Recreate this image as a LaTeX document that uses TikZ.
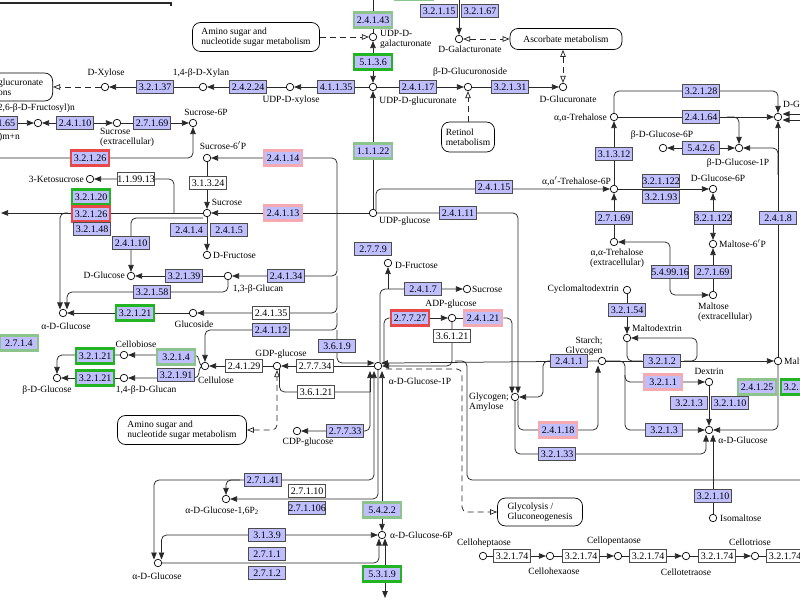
\documentclass[tikz,border=0pt]{standalone}
\usepackage{fontspec}
\setmainfont{Liberation Serif}
\usetikzlibrary{arrows.meta}
\definecolor{enzfill}{RGB}{191,191,255}
\definecolor{kred}{RGB}{232,72,72}
\definecolor{kpink}{RGB}{244,170,176}
\definecolor{kgreen}{RGB}{34,180,34}
\definecolor{klgreen}{RGB}{140,196,140}
\definecolor{lncol}{RGB}{40,40,40}
\pgfdeclarelayer{bg}
\pgfsetlayers{bg,main}
\newcommand{\kfs}{\fontsize{9.5}{10}\selectfont}
\newcommand{\kefs}{\fontsize{10}{10}\selectfont}
\tikzset{
 enz/.style={rectangle,draw=black!70,fill=enzfill,line width=0.6pt,minimum width=37pt,minimum height=13pt,inner sep=0pt,font=\kefs},
 enzw/.style={enz,fill=white},
 hred/.style={enz,draw=kred,line width=2.6pt,minimum width=38pt,minimum height=15pt},
 hpink/.style={enz,draw=kpink,line width=2.6pt,minimum width=38pt,minimum height=15pt},
 hgrn/.style={enz,draw=kgreen,line width=2.6pt,minimum width=38pt,minimum height=15pt},
 hlgrn/.style={enz,draw=klgreen,line width=2.6pt,minimum width=38pt,minimum height=15pt},
 cpd/.style={circle,draw=black,fill=white,line width=0.7pt,minimum size=7.5pt,inner sep=0pt},
 lbl/.style={inner sep=0pt,font=\kfs},
 mapbox/.style={rectangle,rounded corners=8pt,draw=black,fill=white,line width=0.7pt,font=\kfs,align=left,inner sep=4pt},
 ln/.style={draw=lncol,line width=0.75pt},
 arr/.style={-{Triangle[length=7pt,width=5.5pt]}},
 arrb/.style={{Triangle[length=7pt,width=5.5pt]}-{Triangle[length=7pt,width=5.5pt]}},
 dsh/.style={dash pattern=on 6pt off 4pt},
 oarr/.style={-{Triangle[open,length=7pt,width=5.5pt]}},
 oarrb/.style={{Triangle[open,length=7pt,width=5.5pt]}-{Triangle[open,length=7pt,width=5.5pt]}},
 rc/.style={rounded corners=5pt},
}
\begin{document}
\begin{tikzpicture}[x=1pt,y=-1pt]
\useasboundingbox (0,0) rectangle (800,601);
% ---------------- nodes: top ----------------
\node[hlgrn] (e_top) at (414,-8) {};
\node[hlgrn] (e241_43) at (373,20) {2.4.1.43};
\node[hgrn] (e5136) at (373,62) {5.1.3.6};
\node[cpd] (c_udpgal) at (373,37) {};
\node[lbl,anchor=west,align=left] (l_udpgal) at (380,39) {UDP-D-\\galacturonate};
\node[mapbox,minimum width=127pt,minimum height=29pt] (m_am1) at (256,37) {Amino sugar and\\nucleotide sugar metabolism};
\node[cpd] (c_udpglcA) at (373,87) {};
\node[lbl] (l_udpglcA) at (418,101) {UDP-D-glucuronate};
\node[enz] (e41135) at (336,87) {4.1.1.35};
\node[cpd] (c_udpxyl) at (290,87) {};
\node[lbl] (l_udpxyl) at (291,100) {UDP-D-xylose};
\node[enz] (e24224) at (248,87) {2.4.2.24};
\node[cpd] (c_xylan) at (203,87) {};
\node[lbl] (l_xylan) at (201,73) {1,4-β-D-Xylan};
\node[enz] (e32137) at (155,87) {3.2.1.37};
\node[cpd] (c_xylose) at (105,87) {};
\node[lbl] (l_xylose) at (106,73) {D-Xylose};
\node[mapbox,anchor=east,text width=100pt,minimum height=28pt] (m_pent) at (53,87) {Pentose and glucuronate\\interconversions};
\node[enz] (e32115) at (439,11) {3.2.1.15};
\node[enz] (e32167) at (480,11) {3.2.1.67};
\node[cpd] (c_galA) at (459,39) {};
\node[lbl] (l_galA) at (470,49) {D-Galacturonate};
\node[mapbox,minimum width=112pt,minimum height=21pt,align=center] (m_asc) at (566,39) {Ascorbate metabolism};
\node[cpd] (c_glcA) at (563,87) {};
\node[lbl] (l_glcA) at (568,99) {D-Glucuronate};
\node[enz] (e24117) at (418,87) {2.4.1.17};
\node[cpd] (c_gluc) at (468,87) {};
\node[lbl] (l_gluc) at (470,72) {β-D-Glucuronoside};
\node[enz] (e32131) at (510,87) {3.2.1.31};
\node[mapbox,minimum width=53pt,minimum height=30pt] (m_ret) at (468,137) {Retinol\\metabolism};
% ---------------- nodes: right ----------------
\node[cpd] (c_treh) at (614,117) {};
\node[lbl,anchor=east] (l_treh) at (607,118) {α,α-Trehalose};
\node[enz] (e32128) at (701,91) {3.2.1.28};
\node[enz] (e24164) at (701,117) {2.4.1.64};
\node[cpd] (c_glcT) at (778,117) {};
\node[lbl,anchor=west] (l_glcT) at (783,104) {D-Glucose};
\node[cpd] (c_bg6p) at (663,148) {};
\node[lbl] (l_bg6p) at (662,135) {β-D-Glucose-6P};
\node[enz] (e5426) at (701,148) {5.4.2.6};
\node[cpd] (c_bg1p) at (739,148) {};
\node[lbl] (l_bg1p) at (738,163) {β-D-Glucose-1P};
\node[enz] (e31312) at (614,154) {3.1.3.12};
\node[cpd] (c_t6p) at (614,189) {};
\node[lbl,anchor=east] (l_t6p) at (611,181) {α,α$'$-Trehalose-6P};
\node[enz] (e321122a) at (661,181) {3.2.1.122};
\node[enz] (e32193) at (661,197) {3.2.1.93};
\node[cpd] (c_g6pR) at (713,189) {};
\node[lbl] (l_g6pR) at (718,178) {D-Glucose-6P};
\node[enz] (e24115) at (494,187) {2.4.1.15};
\node[enz] (e27169b) at (614,218) {2.7.1.69};
\node[cpd] (c_trehx) at (614,242) {};
\node[lbl,align=center] (l_trehx) at (617,258) {α,α-Trehalose\\(extracellular)};
\node[enz] (e321122b) at (713,218) {3.2.1.122};
\node[cpd] (c_mal6p) at (713,244) {};
\node[lbl,anchor=west] (l_mal6p) at (719,244) {Maltose-6$'$P};
\node[enz] (e549916) at (670,272) {5.4.99.16};
\node[enz] (e27169c) at (713,272) {2.7.1.69};
\node[cpd] (c_malx) at (713,295) {};
\node[lbl,align=left] (l_malx) at (725,312) {Maltose\\(extracellular)};
\node[enz] (e2418) at (778,218) {2.4.1.8};
\node[cpd] (c_mal) at (778,361) {};
\node[lbl,anchor=west] (l_mal) at (784,361) {Maltose};
\node[cpd] (c_cyc) at (627,290) {};
\node[lbl,anchor=east] (l_cyc) at (619,289) {Cyclomaltodextrin};
\node[enz] (e32154) at (627,310) {3.2.1.54};
\node[cpd] (c_mdx) at (627,338) {};
\node[lbl,anchor=west] (l_mdx) at (632,328) {Maltodextrin};
\node[enz] (e3212) at (662,361) {3.2.1.2};
\node[cpd] (c_starch) at (602,361) {};
\node[lbl,align=right] (l_starch) at (584,346) {Starch;\\Glycogen};
\node[enz] (e2411) at (569,361) {2.4.1.1};
\node[hpink] (e3211) at (663,382) {3.2.1.1};
\node[cpd] (c_dex) at (709,382) {};
\node[lbl] (l_dex) at (709,371) {Dextrin};
\node[hlgrn] (e24125) at (757,387) {2.4.1.25};
\node[hgrn] (e32120b) at (800,387) {3.2.1.20};
\node[enz] (e3213a) at (689,403) {3.2.1.3};
\node[enz] (e32110a) at (730,403) {3.2.1.10};
\node[enz] (e3213b) at (664,430) {3.2.1.3};
\node[cpd] (c_aglcR) at (709,430) {};
\node[lbl] (l_aglcR) at (743,440) {α-D-Glucose};
\node[enz] (e32110b) at (713,496) {3.2.1.10};
\node[cpd] (c_isom) at (713,518) {};
\node[lbl,anchor=west] (l_isom) at (720,518) {Isomaltose};
\node[hpink] (e24118) at (558,430) {2.4.1.18};
\node[enz] (e32133) at (557,454) {3.2.1.33};
\node[cpd] (c_glyc) at (515,397) {};
\node[lbl,anchor=east,align=left] (l_glyc) at (509,402) {Glycogen;\\Amylose};
\node[mapbox,minimum width=85pt,minimum height=28pt] (m_gly) at (540,512) {Glycolysis /\\Gluconeogenesis};
% cello chain
\node[cpd] (c_c7) at (483,556) {};
\node[lbl] (l_c7) at (484,543) {Celloheptaose};
\node[enzw] (e3c1) at (512,556) {3.2.1.74};
\node[cpd] (c_c6) at (550,556) {};
\node[lbl] (l_c6) at (554,571) {Cellohexaose};
\node[enzw] (e3c2) at (581,556) {3.2.1.74};
\node[cpd] (c_c5) at (618,556) {};
\node[lbl] (l_c5) at (614,541) {Cellopentaose};
\node[enzw] (e3c3) at (648,556) {3.2.1.74};
\node[cpd] (c_c4) at (686,556) {};
\node[lbl] (l_c4) at (686,572) {Cellotetraose};
\node[enzw] (e3c4) at (717,556) {3.2.1.74};
\node[cpd] (c_c3) at (755,556) {};
\node[lbl] (l_c3) at (750,542) {Cellotriose};
\node[enzw] (e3c5) at (785,556) {3.2.1.74};
% ---------------- nodes: middle ----------------
\node[cpd] (c_udpglc) at (373,213) {};
\node[lbl,anchor=west] (l_udpglc) at (379,221) {UDP-glucose};
\node[hlgrn] (e1122) at (373,151) {1.1.1.22};
\node[enz] (e24111) at (458,213) {2.4.1.11};
\node[hpink] (e24114) at (283,158) {2.4.1.14};
\node[cpd] (c_s6pp) at (207,158) {};
\node[lbl] (l_s6pp) at (223,146) {Sucrose-6$'$P};
\node[enzw] (e31324) at (208,183) {3.1.3.24};
\node[cpd] (c_suc) at (207,213) {};
\node[lbl] (l_suc) at (227,202) {Sucrose};
\node[hpink] (e24113) at (283,213) {2.4.1.13};
\node[enz] (e2414) at (189,230) {2.4.1.4};
\node[enz] (e2415) at (229,230) {2.4.1.5};
\node[cpd] (c_fruL) at (207,255) {};
\node[lbl,anchor=west] (l_fruL) at (213,255) {D-Fructose};
\node[enz] (e24134) at (286,276) {2.4.1.34};
\node[cpd] (c_g13) at (228,276) {};
\node[lbl] (l_g13) at (258,289) {1,3-β-Glucan};
\node[enz] (e32139) at (184,276) {3.2.1.39};
\node[cpd] (c_dglcL) at (131,276) {};
\node[lbl,anchor=east] (l_dglcL) at (125,275) {D-Glucose};
\node[enz] (e32158) at (152,292) {3.2.1.58};
\node[enz] (e24110b) at (131,243) {2.4.1.10};
\node[cpd] (c_aglcL) at (63,313) {};
\node[lbl] (l_aglcL) at (66,326) {α-D-Glucose};
\node[hgrn] (e32121a) at (135,313) {3.2.1.21};
\node[cpd] (c_glcs) at (193,313) {};
\node[lbl] (l_glcs) at (194,324) {Glucoside};
\node[enzw] (e24135) at (271,313) {2.4.1.35};
\node[enz] (e24112) at (271,330) {2.4.1.12};
\node[cpd] (c_cell) at (205,366) {};
\node[lbl] (l_cell) at (216,380) {Cellulose};
\node[enzw] (e24129) at (244,366) {2.4.1.29};
\node[cpd] (c_gdp) at (277,366) {};
\node[lbl] (l_gdp) at (281,354) {GDP-glucose};
\node[enzw] (e27734) at (315,366) {2.7.7.34};
\node[enzw] (e36121a) at (316,392) {3.6.1.21};
\node[mapbox,minimum width=129pt,minimum height=29pt] (m_am2) at (182,430) {Amino sugar and\\nucleotide sugar metabolism};
\node[enz] (e3619) at (337,346) {3.6.1.9};
\node[cpd] (c_g1p) at (378,366) {};
\node[lbl] (l_g1p) at (420,381) {α-D-Glucose-1P};
\node[enz] (e2779) at (373,249) {2.7.7.9};
\node[cpd] (c_fruM) at (388,263) {};
\node[lbl,anchor=west] (l_fruM) at (395,265) {D-Fructose};
\node[enz] (e2417) at (423,289) {2.4.1.7};
\node[cpd] (c_sucM) at (467,289) {};
\node[lbl,anchor=west] (l_sucM) at (472,289) {Sucrose};
\node[hred] (e27727) at (410,318) {2.7.7.27};
\node[cpd] (c_adp) at (452,318) {};
\node[lbl] (l_adp) at (451,304) {ADP-glucose};
\node[hpink] (e24121) at (483,318) {2.4.1.21};
\node[enzw] (e36121b) at (452,336) {3.6.1.21};
% ---------------- nodes: left ----------------
\node[hgrn] (e32120) at (91,197) {3.2.1.20};
\node[hred] (e32126b) at (91,214) {3.2.1.26};
\node[enz] (e32148) at (92,229) {3.2.1.48};
\node[hred] (e32126a) at (90,158) {3.2.1.26};
\node[cpd] (c_keto) at (90,179) {};
\node[lbl,anchor=east] (l_keto) at (84,179) {3-Ketosucrose};
\node[enzw] (e119913) at (136,179) {1.1.99.13};
\node[cpd] (c_s6p) at (193,123) {};
\node[lbl] (l_s6p) at (206,112) {Sucrose-6P};
\node[enz] (e27169a) at (152,123) {2.7.1.69};
\node[cpd] (c_sucx) at (117,123) {};
\node[lbl,anchor=north west,align=left] (l_sucx) at (100,128) {Sucrose\\(extracellular)};
\node[enz] (e24110a) at (75,123) {2.4.1.10};
\node[cpd] (c_frn) at (38,123) {};
\node[lbl,anchor=east] (l_frn) at (75,108) {(2,6-β-D-Fructosyl)n};
\node[enz] (e32165) at (-1,123) {3.2.1.65};
\node[lbl,anchor=east] (l_frmn) at (20,137) {(2,6-β-D-Fructosyl)m+n};
\node[hlgrn] (e2714) at (19,343) {2.7.1.4};
\node[cpd] (c_cb) at (124,355) {};
\node[lbl] (l_cb) at (136,344) {Cellobiose};
\node[hgrn] (e32121b) at (95,356) {3.2.1.21};
\node[hgrn] (e32121c) at (95,378) {3.2.1.21};
\node[cpd] (c_bglc) at (57,378) {};
\node[lbl] (l_bglc) at (47,390) {β-D-Glucose};
\node[cpd] (c_g14) at (124,378) {};
\node[lbl] (l_g14) at (146,390) {1,4-β-D-Glucan};
\node[hlgrn] (e3214) at (176,357) {3.2.1.4};
\node[enz] (e32191) at (176,375) {3.2.1.91};
% ---------------- nodes: bottom ----------------
\node[cpd] (c_cdp) at (297,431) {};
\node[lbl] (l_cdp) at (308,442) {CDP-glucose};
\node[enz] (e27733) at (345,431) {2.7.7.33};
\node[enz] (e27141) at (263,480) {2.7.1.41};
\node[cpd] (c_g16) at (226,499) {};
\node[lbl] (l_g16) at (222,511) {α-D-Glucose-1,6P\textsubscript{2}};
\node[enzw] (e27110) at (307,491) {2.7.1.10};
\node[enz] (e271106) at (307,508) {2.7.1.106};
\node[hlgrn] (e5422) at (382,510) {5.4.2.2};
\node[cpd] (c_g6p) at (382,535) {};
\node[lbl,anchor=west] (l_g6p) at (390,535) {α-D-Glucose-6P};
\node[enz] (e3139) at (267,535) {3.1.3.9};
\node[enz] (e2711) at (267,554) {2.7.1.1};
\node[enz] (e2712) at (267,573) {2.7.1.2};
\node[hgrn] (e5319) at (382,574) {5.3.1.9};
\node[cpd] (c_aglcB) at (158,563) {};
\node[lbl] (l_aglcB) at (157,576) {α-D-Glucose};
% ---------------- connectors ----------------
\begin{pgfonlayer}{bg}
\fill[white] (0,0) rectangle (800,601);
\draw[line width=1.5pt,lncol] (0,3) -- (171,3) -- (171,6);
% UDP column
\draw[ln] (c_udpgal) -- (373,-2);
\draw[ln,arr] (e5136) -- (c_udpgal);
\draw[ln,arr] (e5136) -- (c_udpglcA);
\draw[ln,dsh,oarr] (m_am1) -- (c_udpgal);
\draw[ln,arr] (c_udpglc) -- (c_udpglcA);
\draw[ln,arr] (c_udpglcA) -- (c_udpxyl);
\draw[ln,arr] (c_udpxyl) -- (c_xylan);
\draw[ln,arr] (c_xylan) -- (c_xylose);
\draw[ln,dsh,oarr] (c_xylose) -- (m_pent);
\draw[ln,arr] (c_udpglcA) -- (c_gluc);
\draw[ln,arr] (c_gluc) -- (c_glcA);
\draw[ln,dsh,oarr] (m_ret) -- (c_gluc);
\draw[ln,dsh,oarrb] (c_galA) -- (m_asc);
\draw[ln,dsh,oarrb] (m_asc.south -| c_glcA) -- (c_glcA);
\draw[ln,arr] (459,-2) -- (c_galA);
% trehalose / maltose
\draw[ln,arr,rc] (c_treh) -- (614,91) -- (778,91) -- (c_glcT);
\draw[ln,arr] (c_treh) -- (c_glcT);
\draw[ln,arr,rc] (727,117) -- (739,117) -- (c_bg1p);
\draw[ln,arrb] (c_bg6p) -- (c_bg1p);
\draw[ln,arr] (c_t6p) -- (c_treh);
\draw[ln,arr] (c_mal) -- (c_glcT);
\draw[ln,arr,rc] (778,175) -- (778,148) -- (c_bg1p);
\draw[ln,arr] (801,114) -- (782.5,114);
\draw[ln,arr] (801,120) -- (782.5,120);
\draw[ln,arr,rc] (c_udpglc.north east) |- (c_t6p);
\draw[ln,arr] (c_t6p) -- (c_g6pR);
\draw[ln,arr] (c_trehx) -- (c_t6p);
\draw[ln,arrb] (c_mal6p) -- (c_g6pR);
\draw[ln,arr] (c_malx) -- (c_mal6p);
\draw[ln,arrb,rc] (c_trehx) -- (670,242) -- (670,295) -- (c_malx);
\draw[ln,arr] (c_cyc) -- (c_mdx);
\draw[ln,rc] (c_mdx) -- (627,361) -- (642,361);
\draw[ln,arr,rc] (684,361) -- (697,361) -- (697,338) -- (c_mdx);
\draw[ln,arr] (c_starch) -- (c_mal);
\draw[ln,arr] (c_starch) -- (c_g1p.north east);
\draw[ln,arr,rc] (552,361) -- (543,361) -- (543,397) -- (c_glyc);
\draw[ln,arr,rc] (c_starch) -- (625,361) -- (625,382) -- (c_dex);
\draw[ln,arr,rc] (625,375) -- (625,430) -- (c_aglcR);
\draw[ln,arr] (c_dex) -- (c_aglcR);
\draw[ln,arr,rc] (c_mal) -- (778,430) -- (c_aglcR);
\draw[ln,arr] (c_isom) -- (713,434.5);
\draw[ln,arr,rc] (515,400.5) -- (515,454) -- (706,454) -- (706,434.5);
\draw[ln,arr,rc] (518,400.5) -- (518,430) -- (598,430) -- (598,365.5);
\draw[ln,rc] (455,361) -- (467,361) -- (467,480) -- (801,480);
\draw[ln,dsh,oarr,rc] (386,369) -- (462,369) -- (462,512) -- (m_gly.west);
% glucose-1P area
\draw[ln,rc] (e27727.west) -- (384,318) -- (384,362.5);
\draw[ln,arr,rc] (380,362.5) -- (380,289) -- (c_sucM);
\draw[ln,arr] (388,289) -- (c_fruM);
\draw[ln,arr] (e27727) -- (c_adp);
\draw[ln] (c_adp) -- (e24121);
\draw[ln,arr,rc] (e24121) -| (512,393.5);
\draw[ln,arr,rc] (c_udpglc) -| (518,393.5);
\draw[ln,arr,rc] (c_adp) |- (c_g1p);
% bus x=337
\draw[ln,arr] (c_udpglc) -- (c_suc);
\draw[ln,arr,rc] (337,213) -- (337,158) -- (c_s6pp);
\draw[ln,arr,rc] (337,213) -- (337,276) -- (c_g13);
\draw[ln,arr,rc] (337,276) -- (337,313) -- (c_glcs);
\draw[ln,arr,rc] (337,313) -- (337,330) -- (205,330) -- (c_cell);
\draw[ln,arr,rc] (337,330) -- (337,363) -- (374.5,363);
\draw[ln,arr] (c_g1p) -- (c_gdp);
\draw[ln,arr] (c_gdp) -- (c_cell);
\draw[ln,rc] (279.5,369) -- (279.5,392) -- (370,392);
\draw[ln,dsh,oarrb,rc] (m_am2.east) -| (c_gdp.south);
\draw[ln,arr,rc] (370,380) -- (370,431) -- (c_cdp);
\draw[ln,arr] (370,392) -- (370,371);
\draw[ln,arrb,rc] (374,371) -- (374,480) -- (154,480) -- (154,559.5);
\draw[ln,arr,rc] (240,480) -- (226,480) -- (c_g16);
\draw[ln,arr,rc] (378,370) -- (378,499) -- (c_g16);
\draw[ln,arrb] (382,371) -- (c_g6p);
\draw[ln,arrb,rc] (161.5,559.5) -- (161.5,535) -- (c_g6p);
\draw[ln,arr,rc] (c_aglcB) -- (379,563) -- (379,538.5);
\draw[ln,arrb] (385,538.5) -- (385,598);
% left
\draw[ln,arr] (c_s6pp) -- (c_suc);
\draw[ln,arr] (c_suc) -- (c_fruL);
\draw[ln,arr] (c_suc) -- (1,213);
\draw[ln,arr,rc] (68,213) -- (60,213) -- (60,309.5);
\draw[ln,arr,rc] (203,218) -- (131,218) -- (c_dglcL);
\draw[ln,arr,rc] (174,213) -- (174,179) -- (c_keto);
\draw[ln,arr,rc] (-2,158) -- (193,158) -- (c_s6p);
\draw[ln,arr] (c_sucx) -- (c_s6p);
\draw[ln,arrb] (c_frn) -- (c_sucx);
\draw[ln,arr] (-20,123) -- (c_frn);
\draw[ln,arr] (c_g13) -- (c_dglcL);
\draw[ln,arr,rc] (c_g13) -- (228,292) -- (67,292) -- (67,309.5);
\draw[ln,arr] (c_glcs) -- (c_aglcL);
\draw[ln,arr,rc] (c_cell) -- (199,366) -- (199,355) -- (c_cb);
\draw[ln,arr,rc] (c_cell) -- (199,366) -- (199,378) -- (c_g14);
\draw[ln,arr,rc] (c_cb) -- (57,355) -- (c_bglc);
\draw[ln,arr] (c_g14) -- (c_bglc);
% cello chain
\draw[ln] (c_c7) -- (e3c1);
\draw[ln,arr] (e3c1) -- (c_c6);
\draw[ln] (c_c6) -- (e3c2);
\draw[ln,arr] (e3c2) -- (c_c5);
\draw[ln] (c_c5) -- (e3c3);
\draw[ln,arr] (e3c3) -- (c_c4);
\draw[ln] (c_c4) -- (e3c4);
\draw[ln,arr] (e3c4) -- (c_c3);
\draw[ln] (c_c3) -- (e3c5);
\end{pgfonlayer}
\end{tikzpicture}
\end{document}
